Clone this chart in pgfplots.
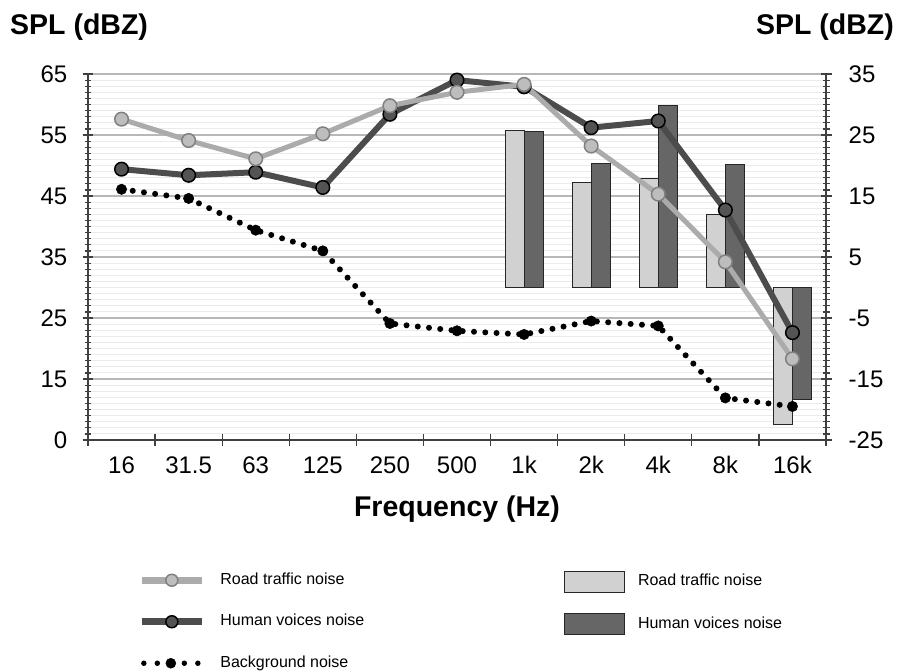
\documentclass[border=0pt]{standalone}
\usepackage{pgfplots}
\pgfplotsset{compat=1.18}
\usepackage{fontspec}
\setmainfont{Liberation Sans}
\definecolor{axisc}{gray}{0.25}
\definecolor{roadline}{gray}{0.67}
\definecolor{roadmark}{gray}{0.74}
\definecolor{roadmarkdraw}{gray}{0.5}
\definecolor{humanline}{gray}{0.3}
\definecolor{humanmark}{gray}{0.33}
\definecolor{roadbar}{gray}{0.82}
\definecolor{humanbar}{gray}{0.4}
\definecolor{majgrid}{gray}{0.72}
\definecolor{mingrid}{gray}{0.92}

\pgfplotsset{
  common/.style={
    at={(88pt,232pt)}, anchor=south west, scale only axis,
    width=738pt, height=366pt, xmin=-0.5, xmax=10.5,
    axis line style={draw=axisc, line width=1.5pt, -},
    tick style={draw=axisc, line width=1.2pt},
    tick align=center, major tick length=11pt, minor tick length=7pt,
    minor y tick num=9,
    tick label style={font=\fontsize{24}{24}\selectfont},
    legend cell align=left,
  },
  mylineleg/.style={legend image code/.code={\draw[mark repeat=2,mark phase=2,##1] plot coordinates {(0pt,0pt) (30pt,0pt) (60pt,0pt)};}},
  mydotleg/.style={legend image code/.code={\draw[mark repeat=2,mark phase=2,##1] plot coordinates {(2pt,0pt) (29pt,0pt) (57pt,0pt)};}},
  mybarleg/.style={legend image code/.code={\draw[##1] (0pt,-10.5pt) rectangle (60pt,10.5pt);}},
}

\begin{document}
\begin{tikzpicture}
\path[use as bounding box] (0pt,0pt) rectangle (897pt,672pt);

% bars, right axis, x axis, grid
\begin{axis}[common,
  ymin=-25, ymax=35,
  axis x line*=bottom, axis y line*=right,
  xtick={-0.5,0.5,...,10.5}, xticklabels={},
  extra x ticks={0,1,...,10},
  extra x tick labels={16,31.5,63,125,250,500,1k,2k,4k,8k,16k},
  extra x tick style={major tick length=0pt, xticklabel style={anchor=base, yshift=-33pt}},
  ytick={-25,-15,...,35}, yticklabels={-25,-15,-5,5,15,25,35},
  yticklabel style={anchor=west, inner sep=0pt, xshift=17pt},
  ymajorgrids, yminorgrids,
  major grid style={draw=majgrid, line width=1.2pt},
  minor grid style={draw=mingrid, line width=1pt},
  legend style={draw=none, fill=none, inner sep=0pt, outer sep=0pt,
    at={(0.645,-0.3575)}, anchor=north west,
    font=\fontsize{16}{16}\selectfont, row sep=20.5pt, column sep=10pt,
    nodes={inner sep=3pt, text height=11.5pt, text depth=3.5pt}},
]
\addlegendimage{mybarleg, fill=roadbar, draw=black!85, line width=1pt}
\addlegendentry{Road traffic noise}
\addlegendimage{mybarleg, fill=humanbar, draw=black!85, line width=1pt}
\addlegendentry{Human voices noise}
\addplot[forget plot, ybar, bar width=19pt, bar shift=-9.5pt, fill=roadbar, draw=black!85, line width=1pt]
  coordinates {(6,25.8) (7,17.2) (8,17.9) (9,11.9) (10,-22.5)};
\addplot[forget plot, ybar, bar width=19pt, bar shift=9.5pt, fill=humanbar, draw=black!85, line width=1pt]
  coordinates {(6,25.6) (7,20.4) (8,29.9) (9,20.2) (10,-18.3)};
\end{axis}

% lines, left axis
\begin{axis}[common,
  ymin=5, ymax=65,
  axis x line=none, axis y line*=left,
  ytick={5,15,...,65}, yticklabels={0,15,25,35,45,55,65},
  yticklabel style={anchor=east, inner sep=0pt, xshift=-15pt},
  legend style={draw=none, fill=none, inner sep=0pt, outer sep=0pt,
    at={(0.0682,-0.3545)}, anchor=north west,
    font=\fontsize{16}{16}\selectfont, row sep=20.5pt, column sep=12pt,
    nodes={inner sep=3pt, text height=11.5pt, text depth=3.5pt}},
]
\addlegendimage{mylineleg, draw=roadline, line width=7pt, mark=*, mark size=6pt, mark options={fill=roadmark, draw=roadmarkdraw, line width=1.5pt}}
\addlegendentry{Road traffic noise}
\addlegendimage{mylineleg, draw=humanline, line width=7pt, mark=*, mark size=6pt, mark options={fill=humanmark, draw=black, line width=1.5pt}}
\addlegendentry{Human voices noise}
\addlegendimage{mydotleg, draw=black, line width=5.5pt, line cap=round, dash pattern=on 0pt off 13.5pt, mark=*, mark size=5pt, mark options={solid, fill=black, draw=black, line width=0.5pt}}
\addlegendentry{Background noise}

\addplot[forget plot, draw=black, line width=6pt, line cap=round, dash pattern=on 0pt off 11.3pt, mark=*, mark size=5.2pt, mark options={solid, fill=black, draw=black, line width=0.5pt}]
  coordinates {(0,46.1) (1,44.6) (2,39.4) (3,36.0) (4,24.1) (5,22.9) (6,22.3) (7,24.5) (8,23.7) (9,11.9) (10,10.5)};
\addplot[forget plot, draw=humanline, line width=6pt, line join=round, mark=*, mark size=6.8pt, mark options={fill=humanmark, draw=black, line width=1.5pt}]
  coordinates {(0,49.4) (1,48.4) (2,48.9) (3,46.4) (4,58.4) (5,64.0) (6,62.9) (7,56.2) (8,57.3) (9,42.7) (10,22.6)};
\addplot[forget plot, draw=roadline, line width=5pt, line join=round, mark=*, mark size=6.8pt, mark options={fill=roadmark, draw=roadmarkdraw, line width=1.5pt}]
  coordinates {(0,57.6) (1,54.1) (2,51.1) (3,55.2) (4,59.8) (5,62.0) (6,63.3) (7,53.2) (8,45.3) (9,34.2) (10,18.3)};
\end{axis}

\node[anchor=base west, inner sep=0pt, font=\bfseries\fontsize{28.5}{28.5}\selectfont] at (10pt,637.7pt) {SPL (dBZ)};
\node[anchor=base east, inner sep=0pt, font=\bfseries\fontsize{28.5}{28.5}\selectfont] at (894pt,637.7pt) {SPL (dBZ)};
\node[anchor=base, inner sep=0pt, font=\bfseries\fontsize{28.5}{28.5}\selectfont] at (457pt,155.3pt) {Frequency (Hz)};
\end{tikzpicture}
\end{document}
